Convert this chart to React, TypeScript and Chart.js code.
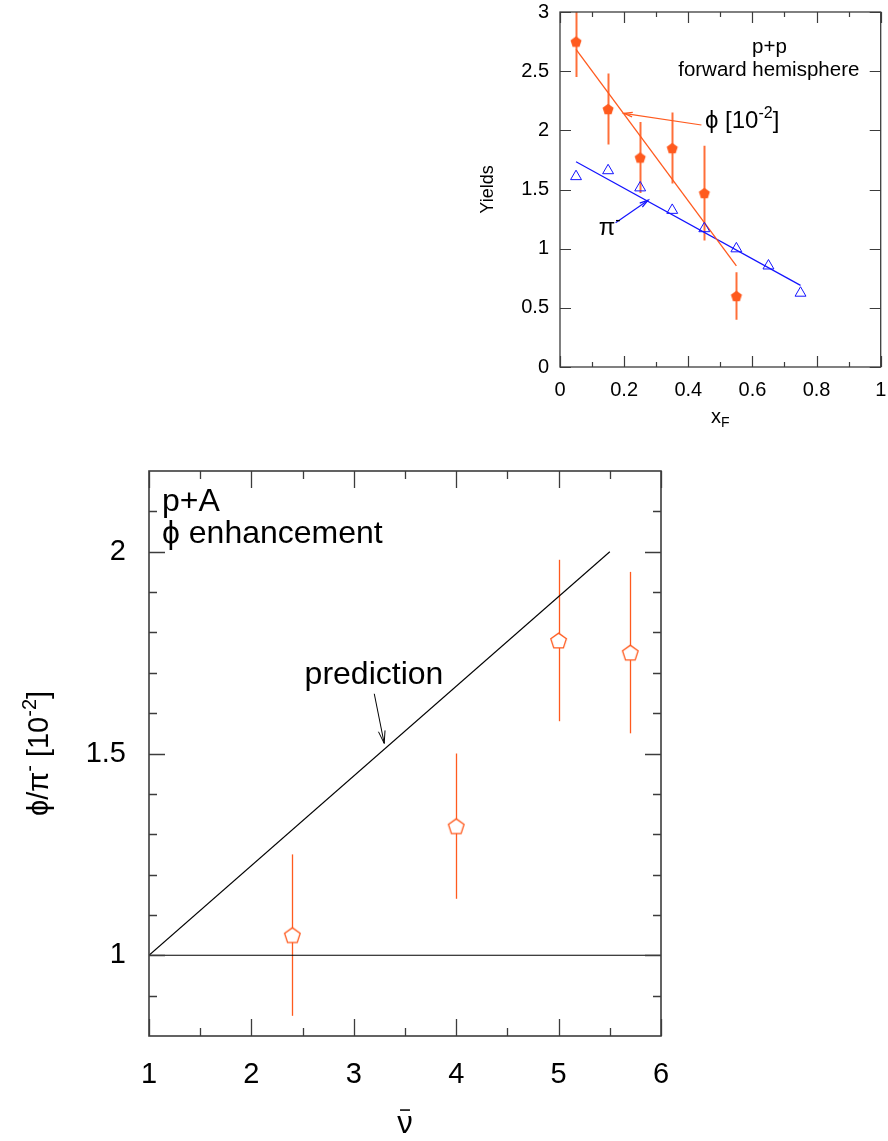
import React, { useEffect, useRef } from 'react';
import { Chart, registerables } from 'chart.js';

Chart.register(...registerables);

const FONT = '"Liberation Sans", Arial, Helvetica, sans-serif';
const ORANGE = '#ff5a1e';
const ORANGE_BAR = 'rgba(255, 95, 35, 0.9)';
const BLUE = '#1414ff';
const FRAME = '#3c3c3c';

// ---------- Inset: p+p, forward hemisphere ----------
const xfValues = [0.05, 0.15, 0.25, 0.35, 0.45, 0.55];
const phiYields = [2.75, 2.18, 1.77, 1.85, 1.47, 0.6];
const phiYieldErrors = [0.3, 0.3, 0.3, 0.3, 0.4, 0.2];
const pionXf = [0.05, 0.15, 0.25, 0.35, 0.45, 0.55, 0.65, 0.75];
const pionYields = [1.61, 1.66, 1.515, 1.325, 1.17, 1.0, 0.855, 0.625];
const phiFitX = [0.05, 0.55];
const phiFitY = [2.685, 0.855];
const pionFitX = [0.05, 0.75];
const pionFitY = [1.735, 0.69];
const insetXTicks = [0, 0.2, 0.4, 0.6, 0.8, 1];
const insetXMinorTicks = [0.1, 0.3, 0.5, 0.7, 0.9];
const insetYTicks = [0, 0.5, 1, 1.5, 2, 2.5, 3];

// ---------- Main: p+A, phi enhancement ----------
const nuBar = [2.4, 4.0, 5.0, 5.7];
const phiPiRatio = [1.05, 1.32, 1.78, 1.75];
const phiPiErrors = [0.2, 0.18, 0.2, 0.2];
const predictionX = [1, 5.5];
const predictionY = [1, 2];
const referenceX = [1, 6];
const referenceY = [1, 1];
const mainXTicks = [1, 2, 3, 4, 5, 6];
const mainXMinorTicks = [1.5, 2.5, 3.5, 4.5, 5.5];
const mainYTicks = [1, 1.5, 2];
const mainYMinorTicks = [0.9, 1.1, 1.2, 1.3, 1.4, 1.6, 1.7, 1.8, 1.9, 2.1];

type Seg = { t: string; sup?: boolean; sub?: boolean; bar?: boolean };

const pts = (xs: number[], ys: number[]) => xs.map((x, i) => ({ x, y: ys[i] }));

function makePentagon(radius: number, fill: string | null, stroke: string | null, lw: number) {
  const size = Math.ceil(radius * 2 + lw * 2 + 4);
  const c = document.createElement('canvas');
  c.width = size;
  c.height = size;
  const ctx = c.getContext('2d')!;
  const cx = size / 2;
  const cy = size / 2 + radius * 0.1;
  ctx.beginPath();
  for (let i = 0; i < 5; i++) {
    const a = -Math.PI / 2 + (i * 2 * Math.PI) / 5;
    const px = cx + radius * Math.cos(a);
    const py = cy + radius * Math.sin(a);
    if (i === 0) ctx.moveTo(px, py);
    else ctx.lineTo(px, py);
  }
  ctx.closePath();
  if (fill) {
    ctx.fillStyle = fill;
    ctx.fill();
  }
  if (stroke) {
    ctx.strokeStyle = stroke;
    ctx.lineWidth = lw;
    ctx.stroke();
  }
  return c;
}

function drawRich(ctx: CanvasRenderingContext2D, segs: Seg[], x: number, y: number, size: number, align: string, color: string) {
  const fontFor = (s: Seg) => `${s.sup || s.sub ? Math.round(size * 0.68) : size}px ${FONT}`;
  const widths = segs.map((s) => {
    ctx.font = fontFor(s);
    return ctx.measureText(s.t).width;
  });
  const total = widths.reduce((a, b) => a + b, 0);
  let cx = align === 'center' ? x - total / 2 : align === 'right' ? x - total : x;
  ctx.fillStyle = color;
  ctx.strokeStyle = color;
  ctx.textAlign = 'left';
  ctx.textBaseline = 'alphabetic';
  segs.forEach((s, i) => {
    ctx.font = fontFor(s);
    const dy = s.sup ? -size * 0.42 : s.sub ? size * 0.22 : 0;
    ctx.fillText(s.t, cx, y + dy);
    if (s.bar) {
      ctx.lineWidth = Math.max(1, size * 0.05);
      ctx.beginPath();
      ctx.moveTo(cx + widths[i] * 0.18, y - size * 0.74);
      ctx.lineTo(cx + widths[i] * 0.82, y - size * 0.74);
      ctx.stroke();
    }
    cx += widths[i];
  });
}

function drawArrow(ctx: CanvasRenderingContext2D, x1: number, y1: number, x2: number, y2: number, color: string, width: number, head: number) {
  ctx.save();
  ctx.strokeStyle = color;
  ctx.lineWidth = width;
  ctx.beginPath();
  ctx.moveTo(x1, y1);
  ctx.lineTo(x2, y2);
  ctx.stroke();
  const ang = Math.atan2(y2 - y1, x2 - x1);
  ctx.beginPath();
  ctx.moveTo(x2 - head * Math.cos(ang - 0.26), y2 - head * Math.sin(ang - 0.26));
  ctx.lineTo(x2, y2);
  ctx.lineTo(x2 - head * Math.cos(ang + 0.26), y2 - head * Math.sin(ang + 0.26));
  ctx.stroke();
  ctx.restore();
}

const errorBarPlugin = {
  id: 'errorBars',
  beforeDatasetsDraw(chart: any) {
    const { ctx, chartArea, scales } = chart;
    ctx.save();
    ctx.beginPath();
    ctx.rect(chartArea.left, chartArea.top, chartArea.right - chartArea.left, chartArea.bottom - chartArea.top);
    ctx.clip();
    chart.data.datasets.forEach((ds: any) => {
      if (!ds.errors) return;
      ctx.strokeStyle = ds.errorColor;
      ctx.lineWidth = ds.errorWidth;
      ds.data.forEach((p: any, i: number) => {
        const e = ds.errors[i];
        const x = Math.round(scales.x.getPixelForValue(p.x)) + 0.5;
        ctx.beginPath();
        ctx.moveTo(x, scales.y.getPixelForValue(p.y - e));
        ctx.lineTo(x, scales.y.getPixelForValue(p.y + e));
        ctx.stroke();
      });
    });
    ctx.restore();
  },
};

function framePlugin(cfg: any) {
  return {
    id: 'frameAndNotes',
    afterDraw(chart: any) {
      const { ctx, chartArea: a, scales } = chart;
      const sx = scales.x;
      const sy = scales.y;
      ctx.save();
      ctx.strokeStyle = FRAME;
      ctx.lineWidth = cfg.tickWidth;
      const tick = (vals: number[], len: number, axis: 'x' | 'y') => {
        vals.forEach((v) => {
          if (axis === 'x') {
            const px = Math.round(sx.getPixelForValue(v)) + 0.5;
            ctx.beginPath();
            ctx.moveTo(px, a.bottom);
            ctx.lineTo(px, a.bottom - len);
            ctx.moveTo(px, a.top);
            ctx.lineTo(px, a.top + len);
            ctx.stroke();
          } else {
            const py = Math.round(sy.getPixelForValue(v)) + 0.5;
            ctx.beginPath();
            ctx.moveTo(a.left, py);
            ctx.lineTo(a.left + len, py);
            ctx.moveTo(a.right, py);
            ctx.lineTo(a.right - len, py);
            ctx.stroke();
          }
        });
      };
      tick(cfg.xMajor, cfg.xMajorLen, 'x');
      tick(cfg.xMinor, cfg.xMinorLen, 'x');
      tick(cfg.yMajor, cfg.yMajorLen, 'y');
      tick(cfg.yMinor, cfg.yMinorLen, 'y');
      ctx.lineWidth = cfg.frameWidth;
      ctx.strokeRect(a.left, a.top, a.right - a.left, a.bottom - a.top);
      ctx.restore();

      ctx.save();
      (cfg.arrows || []).forEach((ar: any) => {
        drawArrow(
          ctx,
          sx.getPixelForValue(ar.x1),
          sy.getPixelForValue(ar.y1),
          sx.getPixelForValue(ar.x2),
          sy.getPixelForValue(ar.y2),
          ar.color,
          ar.width,
          ar.head
        );
      });
      (cfg.texts || []).forEach((t: any) => {
        drawRich(ctx, t.segs, sx.getPixelForValue(t.x), sy.getPixelForValue(t.y), t.size, t.align, t.color || '#000');
      });
      // axis titles
      const xt = cfg.xTitle;
      drawRich(ctx, xt.segs, (a.left + a.right) / 2, a.bottom + xt.offset, xt.size, 'center', '#000');
      const yt = cfg.yTitle;
      ctx.translate(a.left - yt.offset, (a.top + a.bottom) / 2);
      ctx.rotate(-Math.PI / 2);
      drawRich(ctx, yt.segs, 0, yt.size * 0.36, yt.size, 'center', '#000');
      ctx.restore();
    },
  };
}

function axisTicks(values: number[], fontSize: number, padding: number, fitKey: 'width' | 'height', fitSize: number, min: number, max: number) {
  return {
    type: 'linear',
    min,
    max,
    afterBuildTicks: (s: any) => {
      s.ticks = values.map((v) => ({ value: v }));
    },
    afterFit: (s: any) => {
      s[fitKey] = fitSize;
      s.paddingTop = 0;
      s.paddingBottom = 0;
      s.paddingLeft = 0;
      s.paddingRight = 0;
    },
    grid: { display: false, drawTicks: false },
    border: { display: false },
    ticks: {
      autoSkip: false,
      maxRotation: 0,
      padding,
      color: '#000',
      font: { family: FONT, size: fontSize },
      callback: (v: any) => String(v),
    },
  };
}

function buildInset(canvas: HTMLCanvasElement) {
  const filledPentagon = makePentagon(5.8, ORANGE, null, 0);
  return new Chart(canvas, {
    type: 'scatter',
    data: {
      datasets: [
        {
          data: pts(xfValues, phiYields),
          pointStyle: filledPentagon as any,
          pointRadius: 6,
          errors: phiYieldErrors,
          errorColor: ORANGE_BAR,
          errorWidth: 2,
        } as any,
        {
          data: pts(pionXf, pionYields),
          pointStyle: 'triangle',
          pointRadius: 6.3,
          borderColor: BLUE,
          borderWidth: 1,
          backgroundColor: 'rgba(0,0,0,0)',
        },
        {
          data: pts(phiFitX, phiFitY),
          showLine: true,
          pointRadius: 0,
          borderColor: ORANGE,
          borderWidth: 1.3,
        },
        {
          data: pts(pionFitX, pionFitY),
          showLine: true,
          pointRadius: 0,
          borderColor: BLUE,
          borderWidth: 1.2,
        },
      ],
    },
    options: {
      responsive: true,
      maintainAspectRatio: false,
      animation: false,
      events: [],
      layout: { padding: { top: 12, right: 7, left: 0, bottom: 0 } },
      plugins: { legend: { display: false }, tooltip: { enabled: false } },
      scales: {
        x: axisTicks(insetXTicks, 20, 11, 'height', 73, 0, 1) as any,
        y: axisTicks(insetYTicks, 20, 11, 'width', 90, 0, 3) as any,
      },
    },
    plugins: [
      errorBarPlugin,
      framePlugin({
        tickWidth: 1.2,
        frameWidth: 1.3,
        xMajor: insetXTicks,
        xMinor: insetXMinorTicks,
        yMajor: insetYTicks,
        yMinor: [],
        xMajorLen: 11,
        xMinorLen: 5,
        yMajorLen: 11,
        yMinorLen: 5,
        texts: [
          { x: 0.653, y: 2.654, segs: [{ t: 'p+p' }], size: 20.5, align: 'center' },
          { x: 0.651, y: 2.459, segs: [{ t: 'forward hemisphere' }], size: 20.5, align: 'center' },
          { x: 0.452, y: 2.02, segs: [{ t: 'ϕ [10' }, { t: '-2', sup: true }, { t: ']' }], size: 24, align: 'left' },
          { x: 0.121, y: 1.115, segs: [{ t: 'π' }, { t: '-', sup: true }], size: 24, align: 'left' },
        ],
        arrows: [
          { x1: 0.441, y1: 2.045, x2: 0.199, y2: 2.144, color: ORANGE, width: 1.2, head: 9 },
          { x1: 0.1735, y1: 1.22, x2: 0.275, y2: 1.41, color: BLUE, width: 1.2, head: 9 },
        ],
        xTitle: { segs: [{ t: 'x' }, { t: 'F', sub: true }], size: 20, offset: 56 },
        yTitle: { segs: [{ t: 'Yields' }], size: 18, offset: 73 },
      }),
    ],
  });
}

function buildMain(canvas: HTMLCanvasElement) {
  const openPentagon = makePentagon(8.2, '#ffffff', ORANGE, 1.3);
  return new Chart(canvas, {
    type: 'scatter',
    data: {
      datasets: [
        {
          data: pts(nuBar, phiPiRatio),
          pointStyle: openPentagon as any,
          pointRadius: 8,
          errors: phiPiErrors,
          errorColor: ORANGE,
          errorWidth: 1.3,
        } as any,
        {
          data: pts(predictionX, predictionY),
          showLine: true,
          pointRadius: 0,
          borderColor: '#000',
          borderWidth: 1.1,
        },
        {
          data: pts(referenceX, referenceY),
          showLine: true,
          pointRadius: 0,
          borderColor: '#000',
          borderWidth: 1.1,
        },
      ],
    },
    options: {
      responsive: true,
      maintainAspectRatio: false,
      animation: false,
      events: [],
      layout: { padding: { top: 31, right: 39, left: 0, bottom: 0 } },
      plugins: { legend: { display: false }, tooltip: { enabled: false } },
      scales: {
        x: axisTicks(mainXTicks, 29, 22, 'height', 104, 1, 6) as any,
        y: axisTicks(mainYTicks, 29, 23, 'width', 149, 0.8, 2.2) as any,
      },
    },
    plugins: [
      errorBarPlugin,
      framePlugin({
        tickWidth: 1.3,
        frameWidth: 1.6,
        xMajor: mainXTicks,
        xMinor: mainXMinorTicks,
        yMajor: mainYTicks,
        yMinor: mainYMinorTicks,
        xMajorLen: 17,
        xMinorLen: 8,
        yMajorLen: 16,
        yMinorLen: 8,
        texts: [
          { x: 1.127, y: 2.101, segs: [{ t: 'p+A' }], size: 32, align: 'left' },
          { x: 1.127, y: 2.022, segs: [{ t: 'ϕ enhancement' }], size: 32, align: 'left' },
          { x: 3.197, y: 1.672, segs: [{ t: 'prediction' }], size: 32, align: 'center' },
        ],
        arrows: [{ x1: 3.2, y1: 1.648, x2: 3.297, y2: 1.525, color: '#000', width: 1, head: 13 }],
        xTitle: { segs: [{ t: 'ν', bar: true }], size: 31, offset: 97 },
        yTitle: {
          segs: [{ t: 'ϕ/π' }, { t: '-', sup: true }, { t: ' [10' }, { t: '-2', sup: true }, { t: ']' }],
          size: 29,
          offset: 111,
        },
      }),
    ],
  });
}

function ChartBox({ build, style }: { build: (c: HTMLCanvasElement) => Chart; style: React.CSSProperties }) {
  const ref = useRef<HTMLCanvasElement>(null);
  useEffect(() => {
    const chart = build(ref.current!);
    return () => chart.destroy();
  }, []);
  return (
    <div style={{ position: 'absolute', ...style }}>
      <canvas ref={ref} />
    </div>
  );
}

export default function App() {
  return (
    <div style={{ position: 'absolute', left: 0, top: 0, width: 888, height: 1141, overflow: 'hidden', background: '#fff' }}>
      <ChartBox build={buildInset} style={{ left: 470, top: 0, width: 418, height: 440 }} />
      <ChartBox build={buildMain} style={{ left: 0, top: 440, width: 700, height: 700 }} />
    </div>
  );
}
